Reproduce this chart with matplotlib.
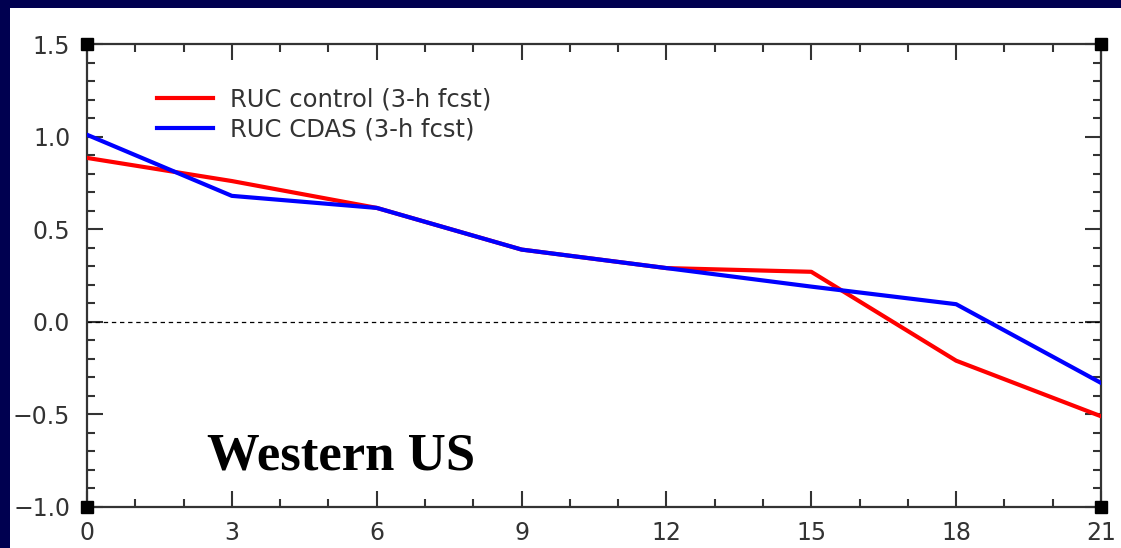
import matplotlib
matplotlib.use("Agg")
import matplotlib.pyplot as plt
from matplotlib.patches import Rectangle
from matplotlib.ticker import MultipleLocator

# Forecast hour and bias values for the two runs
hours = [0, 3, 6, 9, 12, 15, 18, 21]
ruc_control = [0.885, 0.76, 0.615, 0.39, 0.29, 0.27, -0.21, -0.51]
ruc_cdas = [1.01, 0.68, 0.615, 0.39, 0.29, 0.19, 0.095, -0.33]
series_labels = ["RUC control (3-h fcst)", "RUC CDAS (3-h fcst)"]
x_ticks = [0, 3, 6, 9, 12, 15, 18, 21]
y_ticks = [-1.0, -0.5, 0.0, 0.5, 1.0, 1.5]
region_title = "Western US"

W, H = 1121, 548
fig = plt.figure(figsize=(W / 100, H / 100), dpi=100, facecolor="#000050")

# white panel inside the navy frame
fig.patches.append(Rectangle((10 / W, 0), 1, (H - 8) / H, transform=fig.transFigure,
                             facecolor="white", edgecolor="none", zorder=-5))

ax = fig.add_axes([87 / W, 1 - 507 / H, (1101 - 87) / W, (507 - 44) / H])
ax.set_facecolor("white")

ax.plot(hours, ruc_control, color="#ff0000", lw=3, label=series_labels[0], zorder=3)
ax.plot(hours, ruc_cdas, color="#0000ff", lw=3, label=series_labels[1], zorder=4)
ax.axhline(0.0, color="black", lw=0.9, ls=(0, (3.5, 3)), zorder=2)

ax.set_xlim(0, 21)
ax.set_ylim(-1.0, 1.5)
ax.set_xticks(x_ticks)
ax.set_yticks(y_ticks)
ax.xaxis.set_minor_locator(MultipleLocator(1))
ax.yaxis.set_minor_locator(MultipleLocator(0.1))
ax.set_xticklabels([str(v) for v in x_ticks])
ax.set_yticklabels(["\u22121.0", "\u22120.5", "0.0", "0.5", "1.0", "1.5"])

for side in ["left", "right", "top", "bottom"]:
    ax.spines[side].set_color("#333333")
    ax.spines[side].set_linewidth(1.6)

ax.tick_params(which="both", direction="in", top=True, right=True, color="#333333")
ax.tick_params(which="major", length=11.5, width=1.5, labelsize=17, labelcolor="#333333")
ax.tick_params(which="minor", length=6, width=1.5)
ax.tick_params(axis="x", which="major", pad=10)
ax.tick_params(axis="y", which="major", pad=12)

# black squares at the corners of the frame
ax.plot([0, 21, 0, 21], [-1.0, -1.0, 1.5, 1.5], ls="none", marker="s", ms=8.5,
        color="black", clip_on=False, zorder=6)

ax.legend(loc="upper left", bbox_to_anchor=(70 / 1014, (507 - 88) / 463), frameon=False,
          fontsize=17.5, handlelength=2.3, handletextpad=0.7, labelspacing=0.22,
          borderpad=0, borderaxespad=0, labelcolor="#333333")

fig.text(207 / W, 1 - 470 / H, region_title, fontsize=38, fontweight="bold",
         family="Liberation Serif", color="black", ha="left", va="baseline")

fig.savefig("out.png", dpi=100, facecolor=fig.get_facecolor())
